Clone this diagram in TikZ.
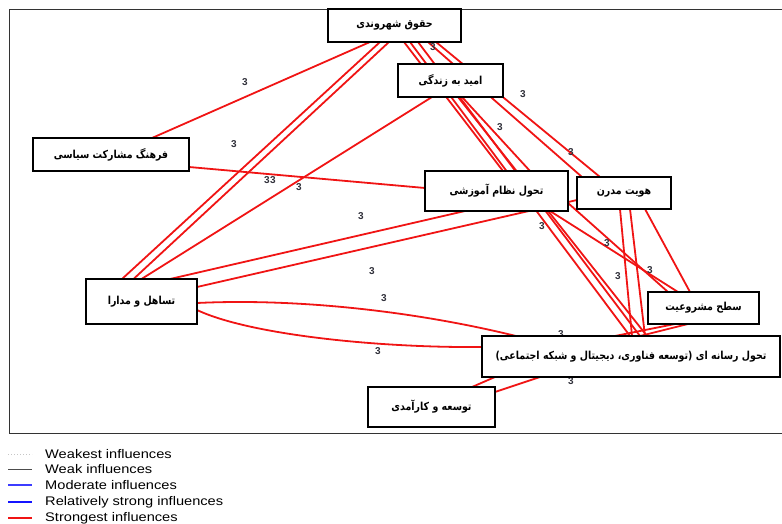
\documentclass[tikz,border=0pt]{standalone}
\usepackage{fontspec}
\setmainfont{Liberation Sans}
\newfontfamily\arabicfont[Script=Arabic,FakeStretch=0.86]{DejaVu Sans}
\newfontfamily\legendfont[FakeStretch=1.17]{Liberation Sans}
\TeXXeTstate=1
\newcommand{\prs}[1]{\arabicfont\beginR #1\endR}
\pgfdeclarelayer{bg}
\pgfsetlayers{bg,main}
\definecolor{edgered}{RGB}{240,20,20}
\definecolor{wtcol}{RGB}{50,50,60}
\definecolor{legblue}{RGB}{20,20,255}
\definecolor{modblue}{RGB}{60,60,255}
\begin{document}
\begin{tikzpicture}[x=1pt,y=-1pt,
  box/.style={draw=black, line width=1.3pt, fill=white, inner sep=0pt,
    font=\arabicfont\bfseries\fontsize{11}{12}\selectfont},
  rel/.style={draw=edgered, line width=1.8pt},
  wt/.style={font=\bfseries\fontsize{10}{10}\selectfont, text=wtcol, inner sep=0pt},
  lg/.style={font=\legendfont\fontsize{12.5}{14}\selectfont, anchor=west, inner sep=0pt}
]
\useasboundingbox (0,0) rectangle (782,524);
% frame
\draw[line width=1pt, black!80] (795,10) -- (9,10) -- (9,433) -- (795,433);

% nodes
\node[box, minimum width=133pt, minimum height=33pt] (A) at (394.5,25.5) {\prs{حقوق شهروندی}};
\node[box, minimum width=105pt, minimum height=33pt] (B) at (450.5,80.5) {\prs{امید به زندگی}};
\node[box, minimum width=156pt, minimum height=33pt] (C) at (111,154.5) {\prs{فرهنگ مشارکت سیاسی}};
\node[box, minimum width=143pt, minimum height=40pt] (D) at (496.5,191) {\prs{تحول نظام آموزشی}};
\node[box, minimum width=94pt, minimum height=32pt] (E) at (624,193) {\prs{هویت مدرن}};
\node[box, minimum width=111pt, minimum height=45pt] (F) at (141.5,301.5) {\prs{تساهل و مدارا}};
\node[box, minimum width=111pt, minimum height=32pt] (G) at (703.5,308) {\prs{سطح مشروعیت}};
\node[box, minimum width=298pt, minimum height=41pt] (H) at (631,356.5) {\prs{تحول رسانه ای (توسعه فناوری، دیجیتال و شبکه اجتماعی)}};
\node[box, minimum width=127pt, minimum height=40pt] (I) at (431.5,407) {\prs{توسعه و کارآمدی}};

\begin{pgfonlayer}{bg}
% left side
\draw[rel] ([shift={(-24.5,16.5)}]A.center) -- ([shift={(41,-16.5)}]C.center);
\draw[rel] ([shift={(-14.5,16.5)}]A.center) -- ([shift={(-19.5,-22.5)}]F.center);
\draw[rel] ([shift={(-5.5,16.5)}]A.center) -- ([shift={(-8,-22.5)}]F.center);
\draw[rel] ([shift={(-18.5,16.5)}]B.center) -- ([shift={(0,-22.5)}]F.center);
\draw[rel] ([shift={(78,12.5)}]C.center) -- ([shift={(-71.5,-3)}]D.center);
\draw[rel] ([shift={(28.5,-22.5)}]F.center) -- ([shift={(-31.5,20)}]D.center);
\draw[rel] ([shift={(55.5,-14.5)}]F.center) -- ([shift={(-47,7)}]E.center);
\draw[rel] ([shift={(55.5,1.5)}]F.center) .. controls ([shift={(158.5,-3.5)}]F.center) and ([shift={(-211,-44.5)}]H.center) .. ([shift={(-111,-19.5)}]H.center);
\draw[rel] ([shift={(55.5,8.5)}]F.center) .. controls ([shift={(108.5,33.5)}]F.center) and ([shift={(-251,-8.5)}]H.center) .. ([shift={(-149,-9.5)}]H.center);
\draw[rel] ([shift={(40.5,-20)}]I.center) -- ([shift={(-136,20.5)}]H.center);
\draw[rel] ([shift={(63.5,-15)}]I.center) -- ([shift={(-91,20.5)}]H.center);
% right cluster
\draw[rel] ([shift={(15.5,16.5)}]A.center) -- ([shift={(-1,-20.5)}]H.center);
\draw[rel] ([shift={(23.5,16.5)}]A.center) -- ([shift={(9,-20.5)}]H.center);
\draw[rel] ([shift={(7.5,16.5)}]B.center) -- ([shift={(16,-20.5)}]H.center);
\draw[rel] ([shift={(9.5,16.5)}]A.center) -- ([shift={(6.5,-20)}]D.center);
\draw[rel] ([shift={(11.5,16.5)}]B.center) -- ([shift={(33.5,-20)}]D.center);
\draw[rel] ([shift={(33.5,16.5)}]A.center) -- ([shift={(-42,-16)}]E.center);
\draw[rel] ([shift={(41.5,16.5)}]A.center) -- ([shift={(-24,-16)}]E.center);
\draw[rel] ([shift={(71.5,12)}]D.center) -- ([shift={(-35.5,-16)}]G.center);
\draw[rel] ([shift={(53.5,20)}]D.center) -- ([shift={(-25.5,-16)}]G.center);
\draw[rel] ([shift={(21,16)}]E.center) -- ([shift={(-13.5,-16)}]G.center);
\draw[rel] ([shift={(-4,16)}]E.center) -- ([shift={(1,-20.5)}]H.center);
\draw[rel] ([shift={(6,16)}]E.center) -- ([shift={(14,-20.5)}]H.center);
\draw[rel] ([shift={(-28.5,16)}]G.center) -- ([shift={(-16,-20.5)}]H.center);
\draw[rel] ([shift={(-15.5,16)}]G.center) -- ([shift={(9,-20.5)}]H.center);

% weights
\foreach \p in {(245,82),(234,144),(267,180),(273,180),(299,187),(361,216),(372,271),(384,298),(378,351),(433,47),(523,94),(500,127),(571,152),(542,226),(607,243),(618,276),(650,270),(561,334),(571,381)}
  \node[wt] at \p {3};
\end{pgfonlayer}

% legend
\draw[gray!45, dotted, line width=1pt] (8,454) -- (32,454);
\node[lg] (l1) at (45,454) {Weakest influences};
\draw[black!70, line width=1pt] (8,469) -- (32,469);
\node[lg] (l2) at (45,469) {Weak influences};
\draw[modblue, line width=1.3pt] (8,485) -- (32,485);
\node[lg] (l3) at (45,485) {Moderate influences};
\draw[legblue, line width=2.8pt] (8,502) -- (32,502);
\node[lg] (l4) at (45,502) {Relatively strong influences};
\draw[edgered, line width=2.8pt] (8,518) -- (32,518);
\node[lg] (l5) at (45,518) {Strongest influences};
\end{tikzpicture}
\end{document}
